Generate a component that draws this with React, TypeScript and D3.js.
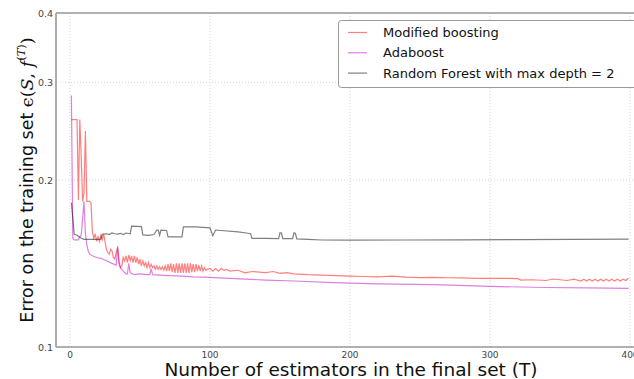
import React, { useEffect, useRef } from 'react';
import * as d3 from 'd3';

// values: [T, error on the training set]
const modifiedBoosting: [number, number][] = [
  [1, 0.257], [2, 0.257], [3, 0.257], [4, 0.257], [5, 0.257], [6, 0.184], [7, 0.257], [8, 0.22],
  [9, 0.183], [10, 0.19], [11, 0.245], [12, 0.183], [13, 0.183], [14, 0.183], [15, 0.182],
  [16, 0.161], [17, 0.157], [18, 0.16], [19, 0.155], [20, 0.158], [21, 0.155], [22, 0.159],
  [23, 0.156], [24, 0.16], [25, 0.155], [26, 0.15], [27, 0.148], [28, 0.147], [29, 0.15],
  [30, 0.149], [31, 0.145], [32, 0.144], [33, 0.148], [34, 0.151], [35, 0.143], [36, 0.139],
  [37, 0.14], [38, 0.145], [39, 0.143], [40, 0.146], [41, 0.142], [42, 0.1465], [43, 0.143],
  [44, 0.146], [45, 0.142], [46, 0.146], [47, 0.142], [48, 0.145], [49, 0.141], [50, 0.144],
  [51, 0.14], [52, 0.143], [53, 0.14], [54, 0.142], [55, 0.139], [56, 0.142], [57, 0.139],
  [58, 0.141], [59, 0.139], [60, 0.14], [61, 0.138], [62, 0.14], [63, 0.138], [64, 0.1395],
  [65, 0.138], [66, 0.1395], [67, 0.1375], [68, 0.14], [69, 0.137], [70, 0.141], [71, 0.137],
  [72, 0.1415], [73, 0.1365], [74, 0.141], [75, 0.136], [76, 0.1415], [77, 0.136], [78, 0.1415],
  [79, 0.136], [80, 0.1415], [81, 0.136], [82, 0.1415], [83, 0.136], [84, 0.1415], [85, 0.136],
  [86, 0.1415], [87, 0.1365], [88, 0.141], [89, 0.1365], [90, 0.141], [91, 0.137], [92, 0.1405],
  [93, 0.137], [94, 0.14], [95, 0.137], [96, 0.139], [97, 0.1375], [98, 0.138], [100, 0.1385],
  [102, 0.137], [104, 0.1385], [106, 0.137], [108, 0.1385], [110, 0.1375], [112, 0.138],
  [114, 0.137], [120, 0.1375], [125, 0.136], [130, 0.1368], [135, 0.1365], [140, 0.1362],
  [145, 0.1368], [150, 0.1358], [155, 0.1362], [160, 0.1355], [170, 0.135], [180, 0.1348],
  [190, 0.1345], [200, 0.1342], [210, 0.134], [220, 0.1338], [230, 0.1342], [240, 0.1336],
  [250, 0.1334], [260, 0.1335], [270, 0.1333], [280, 0.1332], [290, 0.133], [300, 0.133],
  [310, 0.133], [320, 0.1328], [322, 0.132], [330, 0.1322], [340, 0.1318], [345, 0.1326],
  [350, 0.1322], [355, 0.1318], [360, 0.1325], [365, 0.1315], [367, 0.1325], [369, 0.1315],
  [371, 0.1325], [373, 0.1315], [375, 0.1325], [377, 0.1315], [379, 0.1325], [381, 0.1315],
  [383, 0.1325], [385, 0.1315], [387, 0.1325], [389, 0.1315], [391, 0.1325], [393, 0.1315],
  [395, 0.1325], [397, 0.1318], [399, 0.133],
];

const adaboost: [number, number][] = [
  [1, 0.284], [2, 0.157], [3, 0.156], [4, 0.156], [5, 0.156], [6, 0.156], [7, 0.158], [8, 0.159],
  [9, 0.17], [10, 0.183], [11, 0.16], [12, 0.153], [13, 0.149], [14, 0.147], [16, 0.146],
  [19, 0.145], [22, 0.1445], [26, 0.143], [30, 0.1415], [33, 0.1405], [34, 0.152], [35, 0.141],
  [36, 0.139], [38, 0.137], [40, 0.1355], [41, 0.1355], [42, 0.1415], [43, 0.136], [46, 0.135],
  [50, 0.1355], [55, 0.135], [57, 0.135], [58, 0.1385], [59, 0.135], [70, 0.1345], [80, 0.1342],
  [88, 0.1338], [100, 0.1335], [114, 0.133], [140, 0.132], [160, 0.1315], [188, 0.1306],
  [220, 0.13], [260, 0.1296], [300, 0.1286], [340, 0.128], [370, 0.1278], [399, 0.1276],
];

const randomForest: [number, number][] = [
  [1, 0.182], [2, 0.171], [3, 0.1597], [5, 0.159], [8, 0.157], [10, 0.1563], [14, 0.1563],
  [18, 0.1563], [22, 0.1565], [23, 0.1597], [26, 0.16], [28, 0.1595], [30, 0.1605], [32, 0.16],
  [34, 0.1598], [36, 0.1603], [38, 0.1595], [40, 0.1605], [43, 0.16], [44, 0.1651], [48, 0.165],
  [51, 0.1648], [52, 0.1592], [56, 0.159], [60, 0.1595], [62, 0.1625], [63, 0.1625], [64, 0.159],
  [65, 0.1625], [69, 0.1622], [70, 0.158], [76, 0.158], [80, 0.158], [81, 0.1647], [90, 0.1647],
  [100, 0.164], [102, 0.1587], [104, 0.1625], [110, 0.162], [120, 0.1613], [126, 0.1605],
  [129, 0.16], [130, 0.157], [140, 0.157], [149, 0.1568], [150, 0.1607], [151, 0.1605],
  [152, 0.1568], [159, 0.1568], [160, 0.1605], [161, 0.1603], [162, 0.1566], [170, 0.1563],
  [180, 0.1559], [200, 0.1558], [240, 0.1559], [280, 0.156], [320, 0.1562], [360, 0.1563],
  [399, 0.1565],
];

const xTicks = [0, 100, 200, 300, 400];
const yTicks = [0.1, 0.2, 0.3, 0.4];
const legendLabels = ['Modified boosting', 'Adaboost', 'Random Forest with max depth = 2'];
const seriesColors = ['#ff0000', '#bf00bf', '#000000'];

const App: React.FC = () => {
  const ref = useRef<SVGSVGElement>(null);

  useEffect(() => {
    if (!ref.current) return;
    const svg = d3.select(ref.current);
    svg.selectAll('*').remove();

    const font = 'DejaVu Sans, sans-serif';
    const serif = 'DejaVu Serif, serif';
    const left = 56, top = 13, bottom = 347;

    const x = d3.scaleLinear().domain([-10, 410]).range([left, 644]);
    const y = d3.scaleLog().domain([0.1, 0.4]).range([bottom, top]);

    // grid
    const grid = svg.append('g')
      .attr('stroke', '#c8c8c8')
      .attr('stroke-width', 0.8)
      .attr('stroke-dasharray', '1,2');
    xTicks.forEach(t => {
      grid.append('line').attr('x1', x(t)).attr('x2', x(t)).attr('y1', top).attr('y2', bottom);
    });
    yTicks.forEach(t => {
      grid.append('line').attr('x1', left).attr('x2', 644).attr('y1', y(t)).attr('y2', y(t));
    });

    // lines
    const line = d3.line<[number, number]>()
      .x(d => x(d[0]))
      .y(d => y(d[1]));

    [modifiedBoosting, adaboost, randomForest].forEach((data, i) => {
      svg.append('path')
        .datum(data)
        .attr('fill', 'none')
        .attr('stroke', seriesColors[i])
        .attr('stroke-opacity', 0.5)
        .attr('stroke-width', 1.2)
        .attr('d', line);
    });

    // frame
    const frame = svg.append('g').attr('stroke', '#999').attr('stroke-width', 1.6).attr('fill', 'none');
    frame.append('line').attr('x1', left).attr('x2', left).attr('y1', top).attr('y2', bottom);
    frame.append('line').attr('x1', left).attr('x2', 644).attr('y1', top).attr('y2', top);
    frame.append('line').attr('x1', left).attr('x2', 644).attr('y1', bottom).attr('y2', bottom);

    // tick labels
    xTicks.forEach(t => {
      svg.append('text')
        .attr('x', x(t))
        .attr('y', 358)
        .attr('text-anchor', 'middle')
        .attr('font-family', font)
        .attr('font-size', 9)
        .attr('fill', '#444')
        .text(t);
    });
    yTicks.forEach(t => {
      svg.append('text')
        .attr('x', 53)
        .attr('y', y(t) + 3.5)
        .attr('text-anchor', 'end')
        .attr('font-family', font)
        .attr('font-size', 9.5)
        .attr('fill', '#444')
        .text(t.toFixed(1));
    });

    // axis titles
    svg.append('text')
      .attr('x', 351)
      .attr('y', 376)
      .attr('text-anchor', 'middle')
      .attr('font-family', font)
      .attr('font-size', 18.5)
      .attr('fill', '#111')
      .text('Number of estimators in the final set (T)');

    const yl = svg.append('text')
      .attr('transform', 'translate(33,180) rotate(-90)')
      .attr('text-anchor', 'middle')
      .attr('font-family', font)
      .attr('font-size', 17.5)
      .attr('fill', '#111');
    yl.append('tspan').text('Error on the training set ');
    yl.append('tspan').attr('font-family', serif).text('ϵ(');
    yl.append('tspan').attr('font-family', serif).attr('font-style', 'italic').text('S');
    yl.append('tspan').attr('font-family', serif).text(', ');
    yl.append('tspan').attr('font-family', serif).attr('font-style', 'italic').text('f');
    yl.append('tspan').attr('font-family', serif).attr('font-size', 11.5).attr('dy', -8).text('(');
    yl.append('tspan').attr('font-family', serif).attr('font-size', 11.5).attr('font-style', 'italic').text('T');
    yl.append('tspan').attr('font-family', serif).attr('font-size', 11.5).text(')');
    yl.append('tspan').attr('font-family', serif).attr('dy', 8).text(')');

    // legend
    const lg = svg.append('g');
    lg.append('rect')
      .attr('x', 338.5)
      .attr('y', 20.5)
      .attr('width', 310)
      .attr('height', 67)
      .attr('rx', 3)
      .attr('fill', 'white')
      .attr('stroke', '#999')
      .attr('stroke-width', 1);
    legendLabels.forEach((label, i) => {
      const ly = 32.5 + i * 20.3;
      lg.append('line')
        .attr('x1', 348).attr('x2', 367)
        .attr('y1', ly).attr('y2', ly)
        .attr('stroke', seriesColors[i])
        .attr('stroke-opacity', 0.5)
        .attr('stroke-width', 1.2);
      lg.append('text')
        .attr('x', 383)
        .attr('y', ly + 4.5)
        .attr('font-family', font)
        .attr('font-size', 13)
        .attr('fill', '#111')
        .text(label);
    });
  }, []);

  return (
    <svg
      ref={ref}
      width={634}
      height={379}
      style={{ position: 'absolute', left: 0, top: 0, background: 'white' }}
    />
  );
};

export default App;
